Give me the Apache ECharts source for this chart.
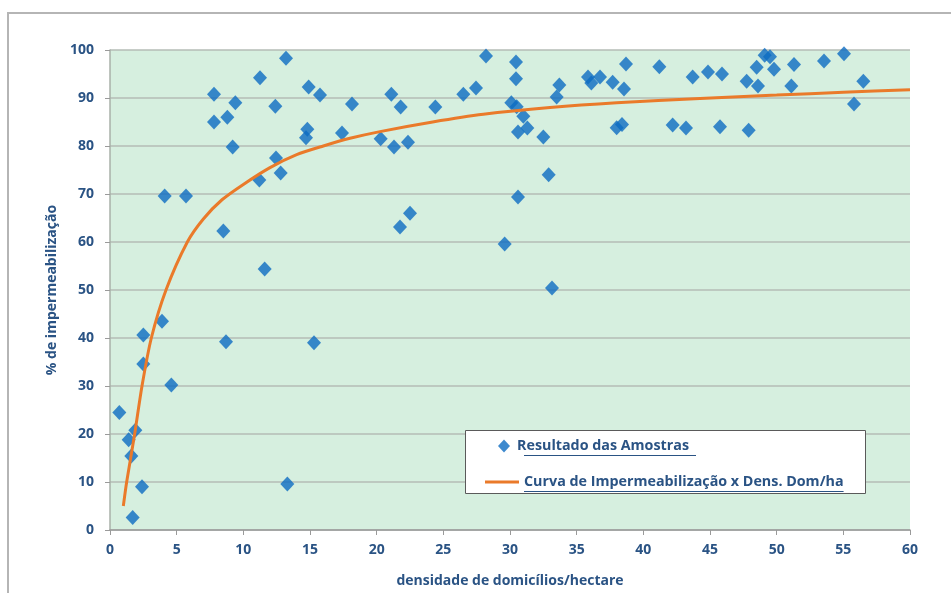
<!DOCTYPE html>
<html>
<head>
<meta charset="utf-8">
<script src="https://cdn.jsdelivr.net/npm/echarts@6/dist/echarts.min.js"></script>
<style>html,body{margin:0;padding:0;background:#fff;}#c{width:951px;height:593px;}</style>
</head>
<body>
<div id="c"></div>
<script>
// ---- data ----
const sampleX = [0.7,1.4,1.6,1.9,1.7,2.4,2.5,4.6,2.5,3.9,8.5,11.6,8.7,15.3,13.3,4.1,5.7,7.8,7.8,9.4,8.8,9.2,11.25,13.2,12.4,12.45,12.8,11.2,14.9,15.75,14.8,14.7,17.4,18.15,21.1,21.8,20.3,21.3,22.35,24.4,26.5,27.45,28.2,30.1,30.5,30.6,30.45,30.45,30.6,22.5,21.75,29.6,33.15,31.0,31.3,32.5,32.9,33.7,33.5,35.85,36.1,36.75,37.7,38.55,38.7,38.0,38.4,41.2,42.2,43.2,43.7,44.85,45.75,45.9,47.9,47.75,48.6,48.5,49.1,49.5,49.8,51.3,51.1,53.55,55.05,56.5,55.8];
const sampleY = [24.5,18.8,15.4,20.8,2.6,9.0,34.6,30.2,40.6,43.5,62.3,54.4,39.2,39.0,9.6,69.6,69.6,90.8,85.0,89.0,86.0,79.8,94.2,98.3,88.3,77.5,74.4,72.9,92.3,90.6,83.5,81.7,82.7,88.75,90.8,88.1,81.5,79.8,80.8,88.1,90.8,92.1,98.75,89.0,88.2,82.9,97.5,94.0,69.4,66.0,63.1,59.6,50.4,86.2,83.75,81.9,74.0,92.7,90.2,94.4,93.1,94.4,93.3,91.9,97.1,83.8,84.5,96.5,84.4,83.75,94.4,95.4,84.0,95.0,83.3,93.5,92.5,96.4,98.9,98.6,96.0,97.0,92.5,97.7,99.2,93.5,88.75];
const curveX = [1.0,1.25,1.85,2.4,3.1,4.2,5.8,7.0,8.4,10,12,14,16,18,20.25,24.2,28,33,38,44.25,50,55,60];
const curveY = [5,10,20,30,40,50,60,64.8,68.8,72.0,75.5,78.2,80.0,81.6,83.0,85.0,86.6,88.0,89.0,89.9,90.6,91.2,91.7];
const xTicks = {min:0, max:60, step:5};
const yTicks = {min:0, max:100, step:10};
const seriesNames = ['Resultado das Amostras', 'Curva de Impermeabilização x Dens. Dom/ha'];
const axisNames = {x:'densidade de domicílios/hectare', y:'% de impermeabilização'};

const TXT = '#2a5384';
const FONT = 'Open Sans';
const legendFontSize = 14.3;

function textWidth(str, size, weight){
  const cv = document.createElement('canvas').getContext('2d');
  cv.font = weight + ' ' + size + 'px "' + FONT + '"';
  return cv.measureText(str).width;
}

const chart = echarts.init(document.getElementById('c'), null, {renderer:'canvas'});

const leg1TextX = 524, leg2TextX = 524;
const w1 = textWidth(seriesNames[0], legendFontSize, 'bold');
const w2 = textWidth(seriesNames[1], legendFontSize, 'bold');

const option = {
  backgroundColor: '#ffffff',
  animation: false,
  grid: {left:110, right:41, top:50, bottom:63, show:true, backgroundColor:'#d6efdf', borderWidth:0},
  xAxis: {
    type:'value', min:xTicks.min, max:xTicks.max, interval:xTicks.step,
    name: axisNames.x, nameLocation:'middle', nameGap:44,
    nameTextStyle:{color:TXT, fontFamily:FONT, fontWeight:'bold', fontSize:14},
    axisLine:{show:true, lineStyle:{color:'#9a9a9a', width:1.5}},
    axisTick:{show:true, length:5, lineStyle:{color:'#9a9a9a'}},
    splitLine:{show:false},
    axisLabel:{color:TXT, fontFamily:FONT, fontWeight:'bold', fontSize:14, margin:13}
  },
  yAxis: {
    type:'value', min:yTicks.min, max:yTicks.max, interval:yTicks.step,
    name: axisNames.y, nameLocation:'middle', nameGap:50, nameRotate:90,
    nameTextStyle:{color:TXT, fontFamily:FONT, fontWeight:'bold', fontSize:14},
    axisLine:{show:true, lineStyle:{color:'#a8b0a8', width:1.5}},
    axisTick:{show:true, length:5, lineStyle:{color:'#9a9a9a'}},
    splitLine:{show:true, lineStyle:{color:'#b4bcb6', width:1.5}},
    axisLabel:{color:TXT, fontFamily:FONT, fontWeight:'bold', fontSize:14, margin:16}
  },
  legend: [
    {data:[seriesNames[0]], left:498, top:439, padding:0, itemWidth:12, itemHeight:13, icon:'diamond',
     textStyle:{color:TXT, fontFamily:FONT, fontWeight:'bold', fontSize:legendFontSize, padding:[0,0,0,2]}, z:10},
    {data:[seriesNames[1]], left:485, top:475, padding:0, itemWidth:34, itemHeight:3, icon:'rect',
     itemGap:0, textStyle:{color:TXT, fontFamily:FONT, fontWeight:'bold', fontSize:legendFontSize, padding:[0,0,0,0]}, z:10}
  ],
  graphic: [
    {type:'rect', z:-1, silent:true, shape:{x:8, y:13, width:1000, height:700}, style:{fill:'none', stroke:'#b5b5b5', lineWidth:2}},
    {type:'rect', z:5, silent:true, shape:{x:465.5, y:430.5, width:400, height:63}, style:{fill:'#ffffff', stroke:'#5a5a5a', lineWidth:1}},
    {type:'line', z:11, silent:true, shape:{x1:leg1TextX, y1:455.5, x2:leg1TextX+w1, y2:455.5}, style:{stroke:TXT, lineWidth:1}},
    {type:'line', z:11, silent:true, shape:{x1:leg2TextX, y1:491.5, x2:leg2TextX+w2, y2:491.5}, style:{stroke:TXT, lineWidth:1}}
  ],
  series: [
    {name:seriesNames[0], type:'scatter', symbol:'diamond', symbolSize:[14,15],
     itemStyle:{color:'#0d6cc2'}, data: sampleX.map((x,i)=>[x, sampleY[i]]), z:3},
    {name:seriesNames[1], type:'line', smooth:0.25, symbol:'none', showSymbol:false,
     lineStyle:{color:'#ea7a2a', width:3}, itemStyle:{color:'#ea7a2a'},
     data: curveX.map((x,i)=>[x, curveY[i]]), z:4}
  ]
};
chart.setOption(option);
</script>
</body>
</html>
